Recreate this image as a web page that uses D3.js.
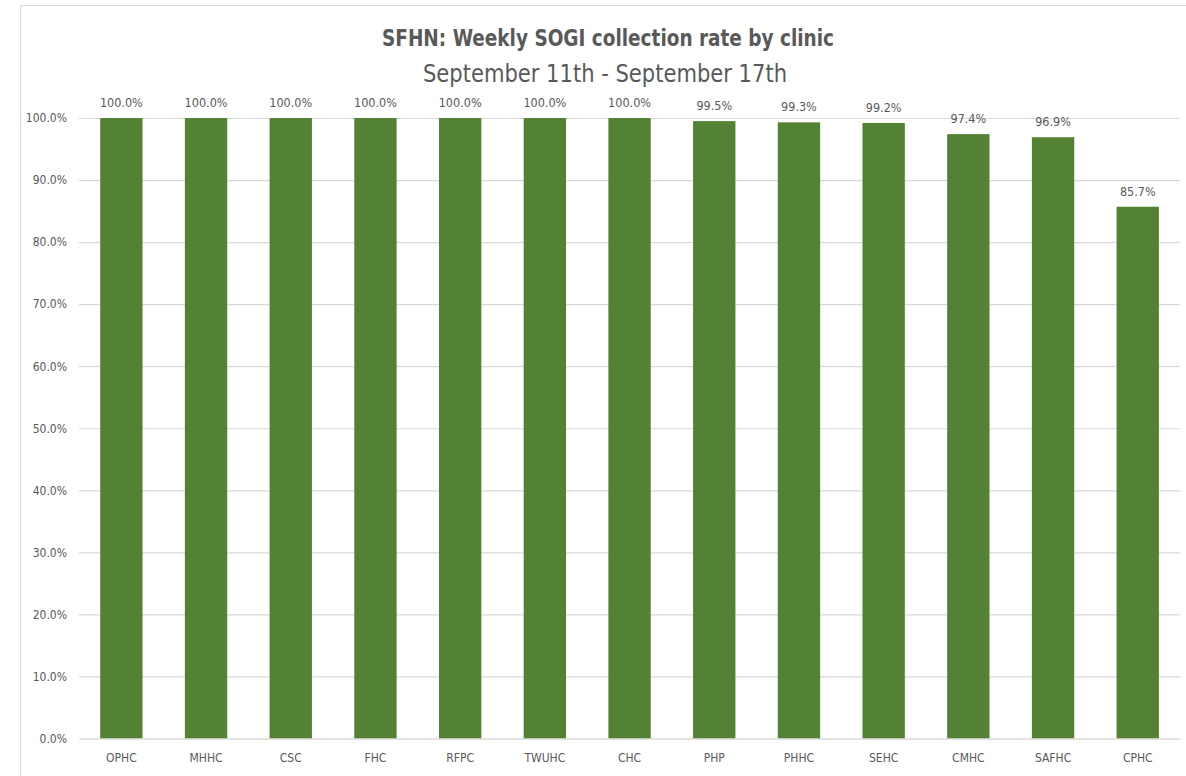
<!DOCTYPE html>
<html>
<head>
<meta charset="utf-8">
<script src="https://cdn.jsdelivr.net/npm/d3@7"></script>
<style>
  body { margin: 0; background: #fff; }
  svg text { font-family: "Liberation Sans Narrow", "DejaVu Sans Condensed", "Open Sans", sans-serif; fill: #595959; }
</style>
</head>
<body>
<svg id="chart"></svg>
<script>
const clinics = ["OPHC", "MHHC", "CSC", "FHC", "RFPC", "TWUHC", "CHC", "PHP", "PHHC", "SEHC", "CMHC", "SAFHC", "CPHC"];
const rates = [100.0, 100.0, 100.0, 100.0, 100.0, 100.0, 100.0, 99.5, 99.3, 99.2, 97.4, 96.9, 85.7];
const yTicks = [0, 10, 20, 30, 40, 50, 60, 70, 80, 90, 100];
const titleText = "SFHN: Weekly SOGI collection rate by clinic";
const subtitleText = "September 11th - September 17th";

const width = 1186, height = 776;
const margin = { top: 118, right: 6, bottom: 38, left: 79 };

const svg = d3.select("#chart")
    .attr("width", width)
    .attr("height", height);

// chart area border
svg.append("rect")
    .attr("x", 20.5).attr("y", 5.5)
    .attr("width", width + 10).attr("height", height + 10)
    .attr("fill", "none")
    .attr("stroke", "#d9d9d9");

const xScale = d3.scaleBand()
    .domain(clinics)
    .range([margin.left, margin.left + 13 * 84.7])
    .paddingInner(0.5)
    .paddingOuter(0.25);

const yScale = d3.scaleLinear()
    .domain([0, 100])
    .range([738.5, 118]);

const fmt = (d) => d.toFixed(1) + "%";

// gridlines + y labels
const yAxis = d3.axisLeft(yScale)
    .tickValues(yTicks)
    .tickSize(-(xScale.range()[1] - margin.left))
    .tickPadding(12)
    .tickFormat(fmt);

const yAxisGroup = svg.append("g")
    .attr("transform", `translate(${margin.left}, 0)`)
    .call(yAxis);
yAxisGroup.select(".domain").remove();
yAxisGroup.selectAll(".tick line").attr("stroke", "#d9d9d9").attr("stroke-width", 1.2);
yAxisGroup.selectAll(".tick text").attr("font-size", 12).attr("fill", "#595959");

// bars
svg.selectAll(".bar")
    .data(clinics.map((c, i) => [c, rates[i]]))
    .join("rect")
    .attr("class", "bar")
    .attr("x", (d) => xScale(d[0]))
    .attr("width", xScale.bandwidth())
    .attr("y", (d) => yScale(d[1]))
    .attr("height", (d) => yScale(0) - yScale(d[1]))
    .attr("fill", "#548235");

// x axis labels
const xAxis = d3.axisBottom(xScale).tickSize(0).tickPadding(15);
const xAxisGroup = svg.append("g")
    .attr("transform", `translate(0, ${yScale(0)})`)
    .call(xAxis);
xAxisGroup.select(".domain").attr("stroke", "#d9d9d9").attr("stroke-width", 1.2);
xAxisGroup.selectAll(".tick text").attr("font-size", 12).attr("fill", "#595959");

// data labels
svg.selectAll(".label")
    .data(clinics.map((c, i) => [c, rates[i]]))
    .join("text")
    .attr("class", "label")
    .attr("x", (d) => xScale(d[0]) + xScale.bandwidth() / 2)
    .attr("y", (d) => yScale(d[1]) - 11)
    .attr("text-anchor", "middle")
    .attr("font-size", 12.5)
    .text((d) => fmt(d[1]));

// titles
svg.append("text")
    .attr("x", 608).attr("y", 46)
    .attr("text-anchor", "middle")
    .attr("font-size", 23)
    .attr("font-weight", "bold")
    .attr("textLength", 452)
    .attr("lengthAdjust", "spacingAndGlyphs")
    .text(titleText);

svg.append("text")
    .attr("x", 605).attr("y", 82)
    .attr("text-anchor", "middle")
    .attr("font-size", 24)
    .attr("textLength", 364)
    .attr("lengthAdjust", "spacingAndGlyphs")
    .text(subtitleText);
</script>
</body>
</html>
